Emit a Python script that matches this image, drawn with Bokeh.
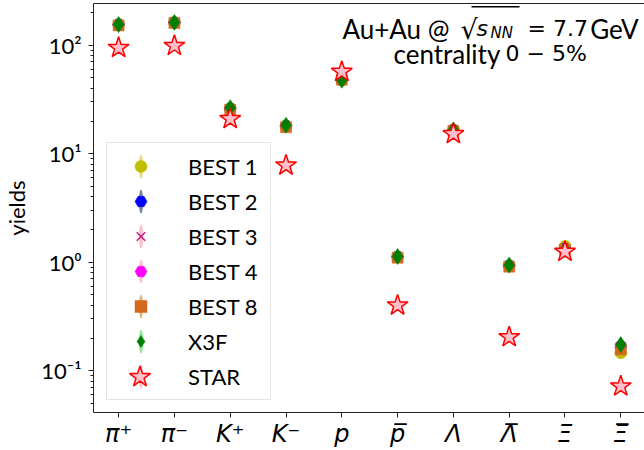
import numpy as np
from bokeh.plotting import figure
from bokeh.models import (FixedTicker, LinearAxis, Legend, LegendItem, Label,
                          ColumnDataSource, Range1d, BoxAnnotation)
from bokeh.embed import file_html
from bokeh.resources import INLINE

# ---------------- data ----------------
categories = ["π⁺", "π⁻", "K⁺", "K⁻", "p", "p\u0305", "Λ", "Λ\u0305", "Ξ", "Ξ\u0305"]
best1 = [155, 162, 26.0, 18.0, 48.0, 1.12, 16.5, 0.93, 1.40, 0.146]
best2 = [155, 162, 26.0, 18.0, 48.0, 1.12, 16.5, 0.93, 1.33, 0.165]
best3 = [155, 162, 26.0, 18.0, 48.0, 1.12, 16.5, 0.93, 1.33, 0.165]
best4 = [155, 162, 26.0, 18.0, 48.0, 1.12, 16.5, 0.93, 1.33, 0.170]
best8 = [152, 160, 25.5, 17.5, 48.0, 1.10, 16.2, 0.91, 1.30, 0.157]
x3f = [155, 162, 26.5, 18.3, 47.5, 1.13, 16.6, 0.94, 1.30, 0.174]
star = [94.5, 98.6, 20.9, 7.8, 56.9, 0.40, 15.2, 0.204, 1.25, 0.0718]
y_ticks = [0.1, 1, 10, 100]
y_tick_labels = ["10⁻¹", "10⁰", "10¹", "10²"]

xs = list(range(len(categories)))

TEXT_FONT = "Lato"
AX = "#222222"

p = figure(width=644, height=450, y_axis_type="log",
           x_range=Range1d(-0.45, 9.425), y_range=Range1d(0.0412, 242),
           output_backend="svg", toolbar_location=None,
           min_border_left=93, min_border_right=0, min_border_top=3,
           min_border_bottom=36)
p.outline_line_color = None
p.xgrid.visible = False
p.ygrid.visible = False
p.background_fill_color = "white"
p.border_fill_color = "white"

# x axis (bottom)
xa = p.below[0]
xa.ticker = FixedTicker(ticks=xs)
xa.major_label_overrides = {i: c for i, c in zip(xs, categories)}
xa.major_label_text_font = "DejaVu Sans"
xa.major_label_text_font_style = "italic"
xa.major_label_text_font_size = "24px"
xa.major_label_text_color = "black"
xa.major_label_standoff = 2
xa.axis_line_color = AX
xa.major_tick_line_color = AX
xa.major_tick_out = 5
xa.major_tick_in = 0
xa.minor_tick_line_color = None

# top spine
top_axis = LinearAxis(ticker=FixedTicker(ticks=[]), axis_line_color=AX,
                      major_tick_line_color=None, minor_tick_line_color=None,
                      major_label_text_font_size="0px",
                      major_tick_out=0, major_tick_in=0, major_label_standoff=0)
p.add_layout(top_axis, "above")

# y axis
ya = p.left[0]
minor = [k * 10.0 ** e for e in range(-2, 3) for k in range(2, 10)]
ya.ticker = FixedTicker(ticks=y_ticks, minor_ticks=minor)
ya.major_label_overrides = {t: l for t, l in zip(y_ticks, y_tick_labels)}
ya.major_label_text_font = TEXT_FONT
ya.major_label_text_font_size = "22px"
ya.major_label_text_color = "black"
ya.major_label_standoff = 7
ya.axis_line_color = AX
ya.major_tick_line_color = AX
ya.minor_tick_line_color = AX
ya.major_tick_out = 5
ya.major_tick_in = 0
ya.minor_tick_out = 3
ya.minor_tick_in = 0
ya.axis_label = "yields"
ya.axis_label_text_font = TEXT_FONT
ya.axis_label_text_font_style = "normal"
ya.axis_label_text_font_size = "22px"
ya.axis_label_text_color = "black"
ya.axis_label_standoff = 8

series = [
    ("BEST 1", best1, "circle", 12, "#bfbf00", "#bfbf00", "#e3dc7a", 0),
    ("BEST 2", best2, "hex", 12, "blue", "blue", "#778899", 0),
    ("BEST 3", best3, "x", 10, "mediumvioletred", None, "pink", 0),
    ("BEST 4", best4, "hex", 12, "magenta", "magenta", "pink", np.pi / 6),
    ("BEST 8", best8, "square", 11, "#d2691e", "#d2691e", "#deb887", 0),
    ("X3F", x3f, "diamond", 16, "green", "green", "#90ee90", 0),
]

items = []
for name, vals, marker, size, lc, fc, ec, ang in series:
    src = ColumnDataSource(dict(x=xs, y=vals))
    # legend proxy for the error bar (no visible data)
    esrc = ColumnDataSource(dict(x=np.array([np.nan]), y=np.array([np.nan]),
                                 w=[4.5], h=[25]))
    er = p.ellipse(x="x", y="y", width="w", height="h", width_units="screen",
                   height_units="screen", source=esrc, fill_color=ec,
                   line_color=None, fill_alpha=1.0)
    kw = dict(marker=marker, size=size, line_color=lc, angle=ang, source=src)
    if fc is None:
        kw.update(fill_color=None, line_width=1.5)
    else:
        kw.update(fill_color=fc, line_width=0.5)
    r = p.scatter(x="x", y="y", **kw)
    items.append(LegendItem(label=name, renderers=[er, r]))

ssrc = ColumnDataSource(dict(x=xs, y=star))
sesrc = ColumnDataSource(dict(x=np.array([np.nan]), y=np.array([np.nan]),
                              w=[4.5], h=[25]))
ser = p.ellipse(x="x", y="y", width="w", height="h", width_units="screen",
                height_units="screen", source=sesrc, fill_color="pink",
                line_color=None, fill_alpha=1.0)
sr = p.scatter(x="x", y="y", marker="star", size=22, fill_color="pink",
               line_color="red", line_width=1.5, source=ssrc)
items.append(LegendItem(label="STAR", renderers=[ser]))

leg = Legend(items=items, location=(13, 12), padding=8, spacing=5,
             glyph_width=51, glyph_height=30, label_standoff=22, margin=0,
             label_width=74,
             label_text_font=TEXT_FONT, label_text_font_size="22px",
             label_text_color="black", border_line_color="#cccccc",
             border_line_width=1, background_fill_color="white",
             background_fill_alpha=0.8)
p.add_layout(leg, "center")

leg2 = Legend(items=[LegendItem(label=" ", renderers=[sr])], location=(19, 8),
              padding=0, spacing=0, glyph_width=55, glyph_height=55,
              label_standoff=0, margin=0, label_text_font_size="1px",
              border_line_color=None, background_fill_alpha=0)
p.add_layout(leg2, "center")

# annotation text (screen units relative to frame: x from left 93, y from bottom 414)
FL, FB = 93, 414
def lab(text, X, Yb, size="26px", style="normal", align="left", font=TEXT_FONT):
    p.add_layout(Label(x=X - FL, y=FB - Yb, x_units="screen", y_units="screen",
                       text=text, text_font=font, text_font_size=size,
                       text_font_style=style, text_align=align,
                       text_baseline="alphabetic", text_color="black"))

lab("Au+Au @", 449, 30, align="right")
lab("√", 460, 31, size="27px", font="DejaVu Sans")
lab("s", 476, 30, size="22px", style="italic", font="DejaVu Sans")
lab("NN", 490, 34, size="15px", style="italic", font="DejaVu Sans")
lab("= 7.7", 527, 30, size="22px", font="DejaVu Sans")
lab("GeV", 638, 30, align="right")
lab("centrality", 393, 55)
lab("0 − 5%", 505, 55, size="22px", font="DejaVu Sans")
p.add_layout(BoxAnnotation(left=471 - FL, right=519 - FL, top=FB - 7.5,
                           bottom=FB - 9, left_units="screen",
                           right_units="screen", top_units="screen",
                           bottom_units="screen", fill_color="black",
                           fill_alpha=1, line_color=None))

open("out.html", "w").write(file_html(p, INLINE))
